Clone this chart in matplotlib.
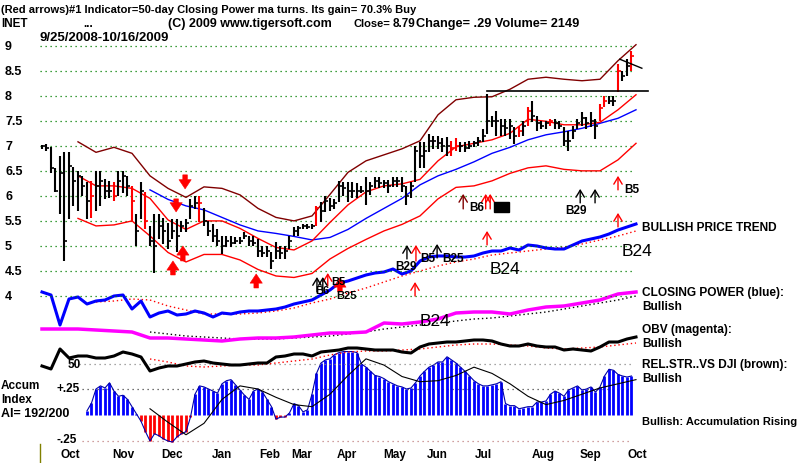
import numpy as np
import matplotlib
matplotlib.use("Agg")
import matplotlib.pyplot as plt
from matplotlib.lines import Line2D

plt.rcParams['font.family'] = ['Liberation Sans', 'DejaVu Sans']

nan = np.nan
# ---------------- price bars (one bar per two trading days) ----------------
bar_high = [7.02, 7.03, 6.97, 6.55, 6.80, 6.87, 6.87, 6.57, 6.50, 6.40,
            6.27, 6.30, 6.50, 6.50, 6.33, 6.30, 6.27, 6.50, 6.50, 6.40,
            6.20, 5.63, 6.27, 6.07, 5.40, 5.63, 5.63, 5.55, 5.45, 5.53,
            5.53, 5.50, 5.53, 5.93, 6.00, 6.00, 5.75, 5.50, 5.43, 5.33,
            5.20, 5.20, 5.20, 5.17, 5.17, 5.27, 5.20, 5.20, 5.13, 5.00,
            5.00, 4.87, 5.07, 5.00, 5.00, 5.20, 5.37, 5.40, 5.43, 5.43,
            5.43, 5.80, 5.87, 6.00, 5.95, 5.93, 6.30, 6.27, 6.28, 6.28,
            6.25, 6.20, 6.38, 6.28, 6.38, 6.38, 6.32, 6.32, 6.38, 6.38,
            6.38, 6.20, 6.28, 7.00, 7.07, 7.07, 7.24, 7.20, 7.20, 7.15,
            7.18, 7.10, 7.15, 7.07, 7.07, 7.10, 7.10, 7.17, 7.34, 8.04,
            7.60, 7.70, 7.53, 7.53, 7.53, 7.37, 7.40, 7.50, 7.77, 7.90,
            7.60, 7.50, 7.50, 7.53, 7.53, 7.50, 7.37, 7.30, 7.40, 7.53,
            7.67, 7.57, 7.67, 7.53, 7.83, 8.00, 8.00, 8.00, 8.63, 8.50,
            8.73, 8.90]
bar_low = [6.93, 6.90, 6.45, 6.07, 5.63, 4.70, 5.53, 5.80, 5.70, 6.00,
           5.53, 5.55, 5.70, 5.80, 5.93, 5.95, 5.90, 6.00, 6.05, 6.00,
           5.50, 5.00, 5.53, 5.33, 5.00, 4.45, 5.13, 5.03, 4.93, 5.13,
           4.87, 5.27, 5.27, 5.53, 5.73, 5.47, 5.40, 5.20, 5.07, 5.00,
           4.83, 4.97, 4.97, 5.03, 5.03, 5.13, 5.00, 5.00, 4.77, 4.77,
           4.77, 4.53, 4.73, 4.73, 4.73, 4.93, 5.20, 5.20, 5.33, 5.33,
           5.33, 5.40, 5.47, 5.67, 5.70, 5.73, 5.87, 6.00, 5.88, 5.95,
           5.95, 6.05, 5.82, 6.02, 6.15, 6.15, 6.15, 6.05, 6.18, 6.18,
           6.08, 5.82, 5.95, 6.28, 6.55, 6.55, 6.88, 6.94, 6.94, 6.88,
           6.80, 6.80, 6.90, 6.88, 6.88, 6.94, 6.97, 7.00, 7.07, 7.24,
           7.37, 7.20, 7.20, 7.20, 7.13, 7.03, 7.17, 7.20, 7.40, 7.47,
           7.30, 7.33, 7.33, 7.40, 7.33, 7.33, 7.00, 6.90, 7.13, 7.33,
           7.40, 7.33, 7.37, 7.13, 7.50, 7.77, 7.83, 7.80, 8.07, 8.30,
           8.40, 8.50]
bar_close = [7.00, 6.95, 6.55, 6.10, 6.45, 5.10, 6.60, 6.30, 6.40, 6.20,
             5.90, 6.00, 6.20, 6.30, 6.10, 6.10, 6.00, 6.30, 6.40, 6.20,
             5.90, 5.30, 6.10, 5.50, 5.10, 5.00, 5.40, 5.30, 5.10, 5.30,
             5.20, 5.40, 5.45, 5.80, 5.85, 5.85, 5.50, 5.30, 5.20, 5.10,
             5.00, 5.10, 5.05, 5.10, 5.10, 5.20, 5.10, 5.05, 4.90, 4.85,
             4.90, 4.70, 4.90, 4.85, 4.90, 5.10, 5.30, 5.35, 5.40, 5.38,
             5.40, 5.75, 5.70, 5.90, 5.80, 5.85, 6.20, 6.15, 6.10, 6.10,
             6.10, 6.10, 6.10, 6.20, 6.30, 6.25, 6.25, 6.20, 6.30, 6.30,
             6.20, 6.00, 6.20, 6.90, 6.80, 6.90, 7.10, 7.10, 7.05, 7.00,
             7.00, 6.95, 7.00, 7.00, 6.95, 7.00, 7.05, 7.10, 7.20, 7.50,
             7.50, 7.50, 7.40, 7.35, 7.40, 7.20, 7.30, 7.40, 7.70, 7.60,
             7.45, 7.40, 7.45, 7.50, 7.45, 7.40, 7.10, 7.10, 7.30, 7.45,
             7.55, 7.45, 7.50, 7.40, 7.75, 7.90, 7.90, 7.90, 8.50, 8.40,
             8.60, 8.79]
red_bars = [11, 16, 20, 23, 35, 61, 91, 92, 106, 108, 113, 124, 125, 128, 131]

# ---------------- price-panel lines (one point per eight trading days) -------
upper_band = [nan, nan, 7.08, 6.87, 6.97, 6.85, 6.40, 6.15, 5.97, 6.18,
              6.15, 6.02, 5.75, 5.57, 5.50, 5.60, 6.03, 6.47, 6.70, 6.82,
              6.94, 7.10, 7.62, 7.92, 7.97, 7.98, 8.13, 8.33, 8.37, 8.33,
              8.30, 8.33, 8.70, 9.02]
mid_red = [nan, nan, 6.40, 6.20, 6.20, 6.15, 5.95, 5.52, 5.33, 5.50,
           5.50, 5.35, 5.15, 4.97, 4.92, 5.10, 5.47, 5.82, 6.08, 6.20,
           6.24, 6.33, 6.70, 6.98, 7.05, 7.12, 7.25, 7.53, 7.49, 7.42,
           7.42, 7.47, 7.72, 8.02]
lower_red = [nan, nan, 5.55, 5.40, 5.42, 5.50, 5.20, 4.87, 4.68, 4.83,
             4.83, 4.72, 4.53, 4.40, 4.37, 4.45, 4.74, 4.95, 5.13, 5.30,
             5.43, 5.60, 5.94, 6.17, 6.20, 6.30, 6.45, 6.56, 6.60, 6.53,
             6.50, 6.50, 6.72, 7.05]
blue_ma = [nan, nan, nan, nan, nan, nan, 6.12, 5.93, 5.80, 5.72,
           5.57, 5.42, 5.30, 5.25, 5.19, 5.12, 5.17, 5.33, 5.55, 5.75,
           5.95, 6.22, 6.40, 6.53, 6.68, 6.85, 6.97, 7.12, 7.22, 7.28,
           7.35, 7.45, 7.55, 7.72]
resistance_slots = [99.0, 134.7]
resistance_prices = [8.10, 8.10]
wedge_slots = [128.4, 133.3]
wedge_prices = [8.73, 8.55]

# ---------------- indicators ----------------
# closing power and relative strength: one point per four trading days
closing_power = [47, 44, 14, 40, 42, 35, 38, 39, 43, 44,
                 30, 38, 22, 26, 28, 24, 25, 28, 26, 22,
                 26, 25, 27, 28, 28, 29, 30, 32, 35, 37,
                 39, 44, 49, 56, 58, 61, 64, 66, 67, 70,
                 65, 68, 78, 82, 83, 83, 82, 82, 83, 86,
                 88, 88, 91, 89, 94, 93, 91, 90, 90, 94,
                 98, 100, 102, 105, 109, 112, 115]
rel_strength = [13, 10, 30, 21, 23, 23, 21, 21, 23, 27,
                25, 22, 8, 11, 13, 13, 15, 17, 18, 16,
                15, 14, 14, 15, 16, 16, 22, 23, 25, 25,
                23, 27, 28, 29, 31, 31, 30, 29, 29, 29,
                27, 26, 32, 35, 36, 37, 37, 38, 39, 39,
                38, 35, 33, 33, 35, 33, 32, 32, 29, 30,
                29, 28, 32, 37, 37, 40, 42]
# smoother series: one point per eight trading days
cp_ma = [nan, nan, nan, 37, 38, 40, 39, 33, 29, 25,
         25, 25, 26, 28, 31, 36, 40, 46, 51, 57,
         63, 68, 73, 77, 80, 84, 86, 88, 90, 92,
         95, 99, 103, 108]
obv = [20, 20, 20, 19, 18, 17, 11, 11, 10, 9,
       8, 10, 11, 11, 12, 14, 16, 16, 17, 26,
       25, 27, 30, 36, 37, 37, 35, 39, 42, 43,
       46, 49, 55, 57]
obv_ma = [nan, nan, nan, nan, nan, nan, 17, 15, 13, 12,
          11, 10, 10, 10, 11, 12, 13, 15, 17, 20,
          22, 24, 26, 28, 30, 31, 33, 35, 37, 40,
          43, 46, 49, 53]
rs_ma = [nan, nan, nan, nan, nan, nan, 20, 17, 13, 12,
         13, 14, 14, 16, 18, 20, 24, 27, 28, 28,
         29, 30, 32, 34, 35, 35, 34, 33, 31, 30,
         31, 32, 34, 36]
ai_ma = [nan, nan, nan, nan, nan, nan, 0.06, -0.07, -0.19, -0.08,
         0.15, 0.28, 0.25, 0.17, 0.10, 0.08, 0.20, 0.38, 0.54, 0.48,
         0.37, 0.32, 0.33, 0.38, 0.46, 0.40, 0.30, 0.18, 0.10, 0.14,
         0.20, 0.26, 0.30, 0.34]
# accumulation index: one value per two trading days
accum = [nan] * 10 + [
    0.04, 0.115, 0.25, 0.28, 0.26, 0.31, 0.23, 0.18, 0.19, 0.15,
    0.08, 0.01, -0.06, -0.16, -0.25, -0.18, -0.20, -0.23, -0.25, -0.26,
    -0.21, -0.18, -0.16, -0.02, 0.20, 0.28, 0.27, 0.25, 0.23, 0.21,
    0.30, 0.33, 0.34, 0.29, 0.24, 0.19, 0.15, 0.23, 0.25, 0.22,
    0.15, 0.08, -0.04, -0.02, -0.02, 0.02, 0.11, 0.09, 0.03, 0.05,
    0.20, 0.40, 0.50, 0.53, 0.54, 0.58, 0.60, 0.61, 0.61, 0.61,
    0.60, 0.49, 0.46, 0.42, 0.38, 0.37, 0.35, 0.32, 0.30, 0.28,
    0.27, 0.25, 0.26, 0.31, 0.375, 0.42, 0.46, 0.48, 0.51, 0.51,
    0.56, 0.53, 0.50, 0.46, 0.42, 0.375, 0.33, 0.30, 0.28, 0.28,
    0.29, 0.30, 0.32, 0.11, 0.09, 0.09, 0.06, 0.07, 0.08, 0.08,
    0.125, 0.125, 0.135, 0.20, 0.23, 0.21, 0.18, 0.24, 0.26, 0.28,
    0.24, 0.25, 0.27, 0.22, 0.27, 0.375, 0.44, 0.43, 0.39, 0.375,
    0.365, 0.375]

# signals: (bar slot, tail price, head price, colour, fat)
signals = [(31.8, 6.42, 6.14, 'red', True), (29.8, 5.94, 5.68, 'red', True),
           (31.3, 4.70, 5.00, 'red', True), (29.1, 4.42, 4.70, 'red', True),
           (47.6, 4.16, 4.44, 'red', True), (66.2, 4.08, 4.36, 'red', True),
           (63.5, 4.20, 4.46, 'red', False), (61.1, 4.08, 4.38, 'black', False),
           (62.4, 4.08, 4.38, 'black', False), (81.1, 4.74, 5.02, 'black', False),
           (83.1, 4.70, 5.02, 'red', False), (87.8, 4.76, 5.04, 'black', False),
           (82.9, 4.00, 4.28, 'red', False), (93.6, 5.74, 6.04, '#800000', False),
           (98.6, 5.74, 6.04, 'red', False), (99.6, 5.74, 6.04, 'red', False),
           (98.9, 5.02, 5.30, 'red', False), (119.6, 5.86, 6.14, 'black', False),
           (122.9, 5.86, 6.14, 'black', False), (128.0, 6.12, 6.40, 'red', False),
           (128.0, 5.38, 5.66, 'red', False)]

months = ['Oct', 'Nov', 'Dec', 'Jan', 'Feb', 'Mar', 'Apr', 'May', 'Jun',
          'Jul', 'Aug', 'Sep', 'Oct']
month_slots = [6.4, 18.0, 28.9, 40.0, 50.7, 57.6, 67.8, 78.4, 87.8, 98.2,
               111.3, 121.8, 132.2]
price_ticks = [9, 8.5, 8, 7.5, 7, 6.5, 6, 5.5, 5, 4.5, 4]

# ---------------- figure ----------------
W, H = 800, 464
fig = plt.figure(figsize=(8, 4.64), dpi=100)
fig.patch.set_facecolor('white')
XLIM = (-42 / 4.5, 758 / 4.5)


def overlay(ylim):
    ax = fig.add_axes([0, 0, 1, 1])
    ax.set_xlim(*XLIM)
    ax.set_ylim(*ylim)
    ax.axis('off')
    ax.patch.set_alpha(0)
    return ax


def ftext(x, y, s, size=8, bold=True, **kw):
    return fig.text(x / W, 1 - y / H, s, fontsize=size,
                    fontweight='bold' if bold else 'normal', va='center', **kw)


grid_kw = dict(linestyles=(0, (1, 3)), linewidth=0.9)
xb = np.arange(len(bar_high))
x8 = np.arange(len(upper_band)) * 4
x4 = np.arange(len(closing_power)) * 2

# accumulation index panel
ax_ai = overlay((-48 / 104, 416 / 104))
ai = np.array(accum)
xa = np.arange(len(ai))
ax_ai.hlines(0.25, 9, 131, colors='#444444', **grid_kw)
ax_ai.hlines(-0.25, 9, 131, colors='#c08080', **grid_kw)
valid = ~np.isnan(ai)
pos = valid & (ai >= 0)
neg = valid & (ai < 0)
ax_ai.vlines(xa[pos], 0, ai[pos], colors='#0000ff', linewidth=2.0)
ax_ai.vlines(xa[neg], 0, ai[neg], colors='#ff0000', linewidth=2.0)
ax_ai.plot(xa, ai, color='#0000aa', linewidth=0.8)
ax_ai.plot(x8, ai_ma, color='black', linewidth=0.8)

# relative strength
ax_rs = overlay((-84, 380))
ax_rs.hlines(15, 6, 131, colors='#888888', **grid_kw)
ax_rs.plot(x8, rs_ma, color='red', linestyle=(0, (1, 2)), linewidth=1)
ax_rs.plot(x4, rel_strength, color='black', linewidth=2.2)

# OBV
ax_obv = overlay((-114, 350))
ax_obv.plot(x8, obv_ma, color='black', linestyle=(0, (1, 2)), linewidth=1)
ax_obv.plot(x8, obv, color='#ff00ff', linewidth=2.5)

# closing power
ax_cp = overlay((-124, 340))
ax_cp.plot(x8, cp_ma, color='red', linestyle=(0, (1, 2)), linewidth=1)
ax_cp.plot(x4, closing_power, color='#0000ff', linewidth=2.2)

# price panel
ax = overlay((4 - 167 / 50.06, 4 + 297 / 50.06))
ax.hlines(np.arange(4, 9.01, 0.5), -0.45, 131.3, colors='#008000', **grid_kw)
ax.plot(x8, upper_band, color='#800000', linewidth=1)
ax.plot(x8, lower_red, color='#ff0000', linewidth=1)
ax.plot(x8, blue_ma, color='#0000ff', linewidth=1)
ax.plot(x8, mid_red, color='#ff0000', linewidth=1)
colors = ['red' if i in red_bars else 'black' for i in xb]
ax.vlines(xb, bar_low, bar_high, colors=colors, linewidth=1.5)
ax.hlines(bar_close, xb, xb + 0.6, colors=colors, linewidth=1.2)
ax.plot(resistance_slots, resistance_prices, color='black', linewidth=1.2)
ax.plot(wedge_slots, wedge_prices, color='black', linewidth=1)

for sx, p0, p1, c, fat in signals:
    if fat:
        props = dict(arrowstyle='simple,head_width=0.8,head_length=0.6,tail_width=0.3',
                     fc=c, ec=c, lw=0.4, mutation_scale=11, shrinkA=0, shrinkB=0)
    else:
        props = dict(arrowstyle='->,head_width=0.3,head_length=0.5', color=c,
                     lw=1.0, mutation_scale=10, shrinkA=0, shrinkB=0)
    ax.annotate('', xy=(sx, p1), xytext=(sx, p0), arrowprops=props)

# ---------------- texts ----------------
ftext(1, 10, '(Red arrows)#1 Indicator=50-day Closing Power ma turns. Its gain= 70.3% Buy')
ftext(1, 24, 'INET', size=8.5)
ftext(83, 24, '...', size=8.5)
ftext(168, 24, '(C) 2009 www.tigersoft.com', size=9)
ftext(353, 24, 'Close=', size=8)
ftext(393, 24, '8.79', size=8.5)
ftext(416, 24, 'Change= .29 Volume= 2149', size=9.2)
ftext(40, 38, '9/25/2008-10/16/2009', size=9.5)
for t in price_ticks:
    ftext(5, 297 - (t - 4) * 50.06, ('%g' % t), size=9)
for name, s in zip(months, month_slots):
    ftext(42 + 4.5 * s, 455, name, size=8.5, ha='center')
ftext(1, 386, 'Accum', size=8.5)
ftext(1, 400, 'Index', size=8.5)
ftext(1, 414, 'AI= 192/200', size=9)
ftext(56, 389, '+.25', size=8.5)
ftext(56, 440, '-.25', size=8.5)
ftext(68, 365, '50', size=8.5)

ftext(642, 228, 'BULLISH PRICE TREND', size=8.6)
ftext(642, 293, 'CLOSING POWER (blue):', size=8.6)
ftext(642, 307, 'Bullish', size=8.6)
ftext(642, 330, 'OBV (magenta):', size=8.6)
ftext(642, 344, 'Bullish', size=8.6)
ftext(642, 365, 'REL.STR..VS DJI (brown):', size=8.6)
ftext(642, 379, 'Bullish', size=8.6)
ftext(642, 422, 'Bullish: Accumulation Rising', size=8.0)

# signal labels
ftext(395, 267, 'B29', size=8.5)
ftext(420, 259, 'B5', size=8.5)
ftext(442, 259, 'B25', size=8.5)
ftext(469, 208, 'B6', size=8.5)
ftext(494, 208, 'B5', size=8, bbox=dict(facecolor='black', edgecolor='black', pad=0.2))
ftext(565, 211, 'B29', size=8.5)
ftext(624, 190, 'B5', size=8.5)
ftext(315, 291, 'B6', size=8)
ftext(331, 282, 'B5', size=8)
ftext(336, 296, 'B25', size=8)
ftext(490, 270, 'B24', size=12.5, bold=False)
ftext(622, 252, 'B24', size=12.5, bold=False)
ftext(420, 322, 'B24', size=12.5, bold=False)

fig.add_artist(Line2D([40 / W, 40 / W], [1 - 445 / H, 1 - 463 / H],
                      color='#808000', linewidth=1))

fig.savefig('out.png', dpi=100, facecolor='white')
